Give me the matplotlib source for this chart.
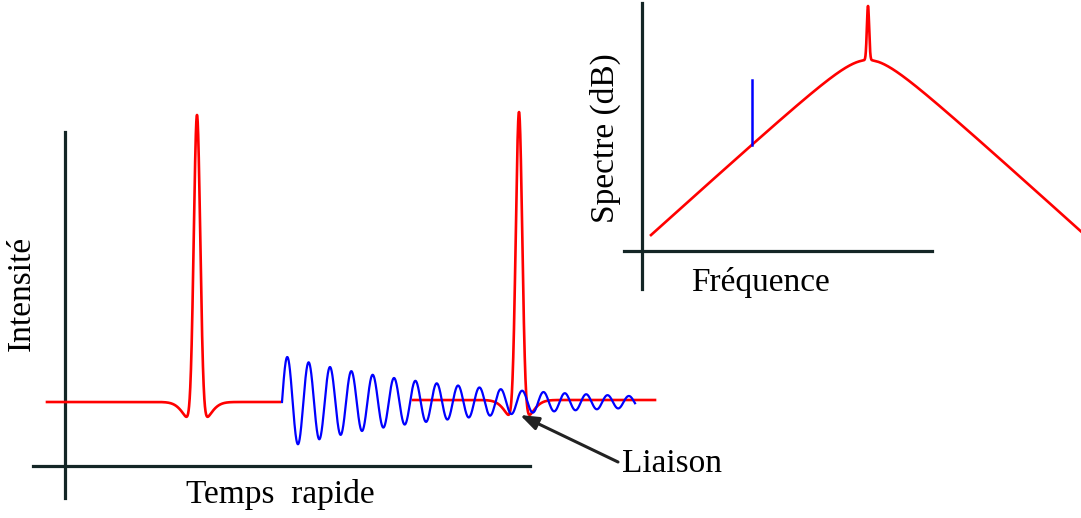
import matplotlib.pyplot as plt
import numpy as np

# left panel: fast time (px-like units, origin at the axes cross)
pulse_times = [132, 454]          # centre of each red pulse
pulse_base = [64, 66]             # baseline level of each red segment
pulse_peak = [351, 354]           # top of each red pulse
pulse_spans = [(-18, 215), (348, 590)]
dip_depth = 27                    # negative lobe around the pulse
echo_start, echo_end = 217, 570   # blue ringing
echo_base = 64
echo_amp0 = 45
echo_decay = 170
echo_period = 21.35

# right panel: spectrum
spec_f = (9, 439)
spec_f0 = 226
spec_peak = 191
spec_slope = 0.905
spec_corner = 25
spike_height = 54
blue_line_f = 110
blue_line_top = 171

red = "#ff0000"
blue = "#0000ff"
axis_col = "#142626"

plt.rcParams["font.family"] = ["Liberation Serif", "DejaVu Serif"]

fig = plt.figure(figsize=(10.81, 5.18), dpi=100)
ax1 = fig.add_axes([0, 0, 1, 1])
ax1.set_xlim(-65, 1081 - 65)
ax1.set_ylim(466 - 518, 466)
ax1.axis("off")

ax2 = fig.add_axes([0, 0, 1, 1])
ax2.set_xlim(-642, 1081 - 642)
ax2.set_ylim(251 - 518, 251)
ax2.axis("off")
ax2.patch.set_alpha(0)


def pulse(t, t0, base, peak):
    d = t - t0
    a = peak - base + dip_depth
    return base + a * np.exp(-(d / 4.6) ** 2) - dip_depth * np.exp(-(d / 15.0) ** 2)


# axes of the left panel
ax1.plot([0, 0], [-32, 334], color=axis_col, lw=2.3, clip_on=False)
ax1.plot([-32, 465], [0, 0], color=axis_col, lw=2.3, clip_on=False)

for t0, b, p, (a, e) in zip(pulse_times, pulse_base, pulse_peak, pulse_spans):
    t = np.linspace(a, e, 2000)
    ax1.plot(t, pulse(t, t0, b, p), color=red, lw=1.9, zorder=2)

t = np.linspace(echo_start, echo_end, 3000)
env = echo_amp0 * np.exp(-(t - echo_start - echo_period / 4) / echo_decay)
ax1.plot(t, echo_base + env * np.sin(2 * np.pi * (t - echo_start) / echo_period),
         color=blue, lw=1.6, zorder=3)

ax1.annotate("", xy=(455, 51), xytext=(553, 4),
             arrowprops=dict(arrowstyle="-|>,head_length=0.55,head_width=0.2",
                             color="#222222", lw=2.2,
                             mutation_scale=20, shrinkA=0, shrinkB=0), zorder=4)

ax1.text(557, 2, "Liaison", fontsize=24, ha="left", va="center")
ax1.text(215, -29, "Temps  rapide", fontsize=24, ha="center", va="center")
ax1.text(-43, 173, "Intensité", fontsize=24, ha="center", va="center", rotation=90)

# right panel
ax2.plot([0, 0], [-38, 248], color=axis_col, lw=2.3, clip_on=False)
ax2.plot([-18, 290], [0, 0], color=axis_col, lw=2.3, clip_on=False)

f = np.linspace(spec_f[0], spec_f[1], 6000)
level = spec_peak - spec_slope * (np.sqrt((f - spec_f0) ** 2 + spec_corner ** 2) - spec_corner)
level = level + spike_height * np.exp(-((f - spec_f0) / 1.6) ** 2)
ax2.plot(f, level, color=red, lw=1.9)

blue_bottom = spec_peak - spec_slope * (np.sqrt((blue_line_f - spec_f0) ** 2 + spec_corner ** 2) - spec_corner)
ax2.plot([blue_line_f, blue_line_f], [blue_bottom, blue_line_top], color=blue, lw=1.8)

ax2.text(118, -32, "Fréquence", fontsize=24, ha="center", va="center")
ax2.text(-37, 113, "Spectre (dB)", fontsize=24, ha="center", va="center", rotation=90)

fig.savefig("out.png", dpi=100)
